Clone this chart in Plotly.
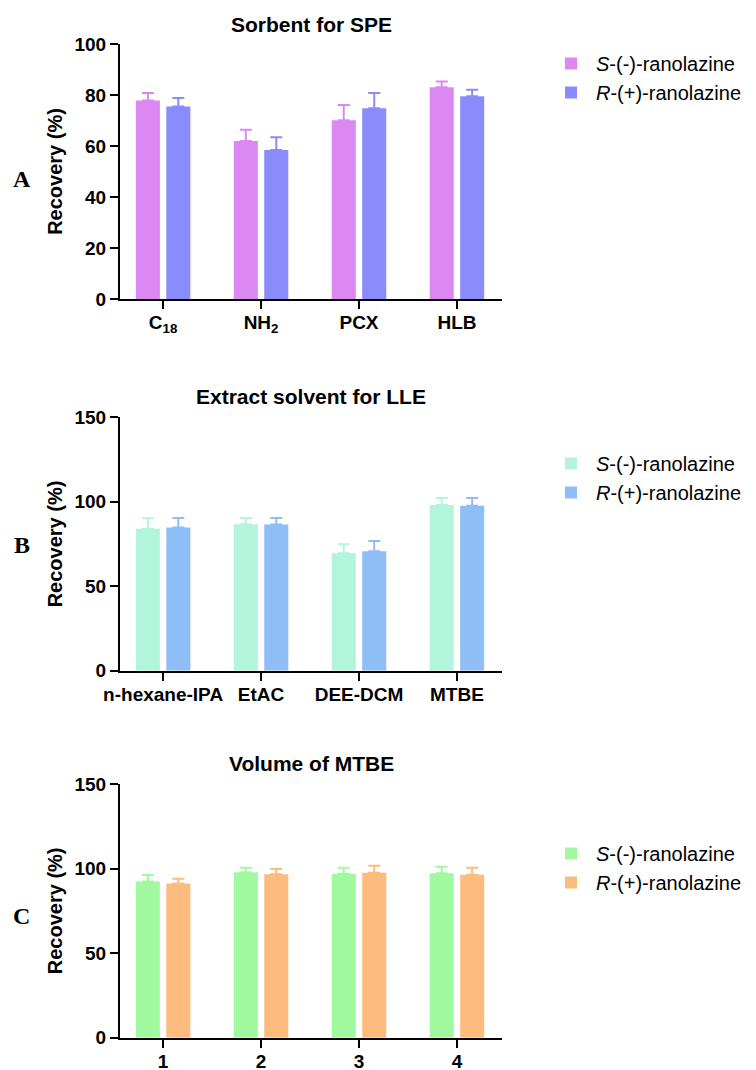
import plotly.graph_objects as go

# ---- data ----
cats_a = ["C<sub>18</sub>", "NH<sub>2</sub>", "PCX", "HLB"]
a_s = [77.8, 62.0, 70.1, 83.0]
a_s_err = [3.0, 4.4, 6.0, 2.3]
a_r = [75.5, 58.4, 74.8, 79.5]
a_r_err = [3.3, 5.0, 6.0, 2.6]

cats_b = ["n-hexane-IPA", "EtAC", "DEE-DCM", "MTBE"]
b_s = [84.1, 86.7, 69.5, 98.1]
b_s_err = [6.1, 3.7, 5.3, 4.1]
b_r = [84.7, 86.5, 70.7, 97.7]
b_r_err = [5.7, 3.9, 6.1, 4.5]

cats_c = ["1", "2", "3", "4"]
c_s = [92.3, 97.8, 97.0, 97.2]
c_s_err = [3.9, 2.7, 3.5, 3.9]
c_r = [91.1, 96.6, 97.6, 96.4]
c_r_err = [2.9, 3.2, 4.1, 4.1]

titles = ["Sorbent for SPE", "Extract solvent for LLE", "Volume of MTBE"]
panel_labels = ["A", "B", "C"]
s_name = "<i>S</i>-(-)-ranolazine"
r_name = "<i>R</i>-(+)-ranolazine"

colors = [("#DB88F3", "#8A8CFB"), ("#B3F5DC", "#8FBEF7"), ("#A0F99E", "#FDBC7E")]

# page body has an 8px margin, so the figure is drawn 8px in from the window edge
OFF = 8
W = 756 - OFF
H = 1070 - OFF
SANS = "Arial, Liberation Sans, sans-serif"


def px(x):
    return (x - OFF) / W


def py(y):
    return 1 - (y - OFF) / H


fig = go.Figure()

panels = [
    (cats_a, a_s, a_s_err, a_r, a_r_err, 100, 20, (44, 299)),
    (cats_b, b_s, b_s_err, b_r, b_r_err, 150, 50, (417.3, 670.7)),
    (cats_c, c_s, c_s_err, c_r, c_r_err, 150, 50, (784, 1037.7)),
]
legend_tops = [44, 444, 834]
label_y = [179, 545, 916]
title_y = [24, 397, 763]

for i, (cats, sv, se, rv, re_, ymax, dt, (ytop, ybot)) in enumerate(panels):
    n = "" if i == 0 else str(i + 1)
    xa = "x" + n
    ya = "y" + n
    leg = "legend" + n
    cs, cr = colors[i]
    for vals, errs, col, name in ((sv, se, cs, s_name), (rv, re_, cr, r_name)):
        fig.add_trace(go.Bar(
            x=cats, y=vals, name=name, xaxis=xa, yaxis=ya, legend=leg,
            marker=dict(color=col, line=dict(width=0)),
            error_y=dict(type="data", array=errs, arrayminus=[0] * len(errs),
                         symmetric=False, color=col, thickness=2, width=6),
        ))
    dom = [py(ybot), py(ytop)]
    axis_common = dict(showline=True, linewidth=2, linecolor="black",
                       ticks="outside", ticklen=8, tickwidth=2, tickcolor="black",
                       showgrid=False, zeroline=False, automargin=False)
    fig.update_layout(**{
        ("xaxis" + n): dict(domain=[px(120), px(502)], anchor=ya, range=[-0.44, 3.46],
                            type="category", ticklabelstandoff=-3,
                            tickfont=dict(family=SANS, size=19, color="black", weight="bold"),
                            **axis_common),
        ("yaxis" + n): dict(domain=dom, anchor=xa, range=[0, ymax], dtick=dt,
                            tickfont=dict(family=SANS, size=19, color="black", weight="bold"),
                            title=dict(text="Recovery (%)", standoff=6,
                                       font=dict(family=SANS, size=20, color="black", weight="bold")),
                            **axis_common),
        leg: dict(x=px(546), y=py(legend_tops[i]), xanchor="left", yanchor="top",
                  font=dict(family=SANS, size=20, color="black"),
                  bgcolor="rgba(0,0,0,0)", tracegroupgap=0, itemwidth=40),
    })
    fig.add_annotation(text=titles[i], xref="paper", yref="paper",
                       x=px(311), y=py(title_y[i]), xanchor="center", yanchor="middle",
                       showarrow=False,
                       font=dict(family=SANS, size=21, color="black", weight="bold"))
    fig.add_annotation(text=panel_labels[i], xref="paper", yref="paper",
                       x=px(22), y=py(label_y[i]), xanchor="center", yanchor="middle",
                       showarrow=False,
                       font=dict(family="Times New Roman, Liberation Serif, serif", size=24,
                                 color="black", weight="bold"))

fig.update_layout(
    width=W, height=H,
    margin=dict(l=0, r=0, t=0, b=0, autoexpand=False),
    paper_bgcolor="white", plot_bgcolor="white",
    barmode="group", bargap=0.378, bargroupgap=0.21,
    showlegend=True,
)

fig.write_html("out.html")
